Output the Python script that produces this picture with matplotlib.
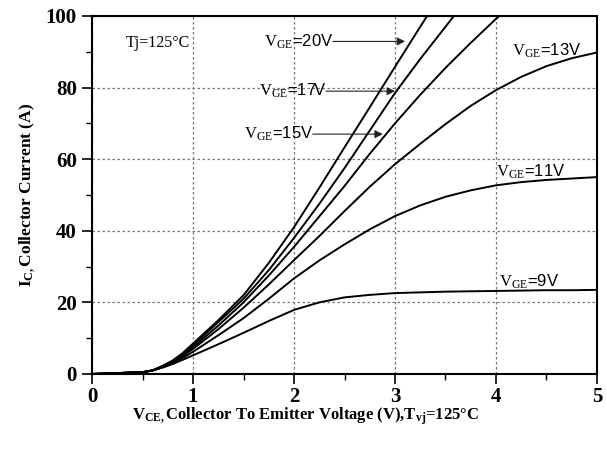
import matplotlib
matplotlib.use("Agg")
import matplotlib.pyplot as plt
from matplotlib.ticker import MultipleLocator

plt.rcParams['mathtext.fontset'] = 'custom'
plt.rcParams['mathtext.rm'] = 'Liberation Serif'
plt.rcParams['mathtext.bf'] = 'Liberation Serif:bold'
plt.rcParams['mathtext.it'] = 'Liberation Serif:italic'

# ---- data ----
vce = [0, 0.5, 0.6, 0.7, 0.8, 0.9, 1.0, 1.25, 1.5, 1.75, 2.0, 2.25, 2.5,
       2.75, 3.0, 3.25, 3.5, 3.75, 4.0, 4.25, 4.5, 4.75, 5.0]

ic_9v = [0, 0.5, 1.0, 1.8, 2.8, 4.0, 5.2, 8.3, 11.5, 14.8, 17.9, 20.0, 21.4,
         22.1, 22.6, 22.8, 23.0, 23.1, 23.2, 23.3, 23.4, 23.4, 23.5]
ic_11v = [0, 0.5, 1.0, 1.9, 3.0, 4.5, 6.2, 10.8, 15.6, 21.0, 26.7, 31.7, 36.2,
          40.4, 44.1, 47.1, 49.5, 51.3, 52.7, 53.6, 54.2, 54.6, 55.0]
ic_13v = [0, 0.5, 1.0, 2.0, 3.2, 5.0, 7.0, 12.5, 18.5, 25.0, 31.8, 38.5, 45.5,
          52.3, 58.6, 64.3, 69.8, 74.9, 79.3, 83.0, 86.0, 88.2, 89.8]
ic_15v = [0, 0.5, 1.0, 2.1, 3.4, 5.3, 7.5, 13.5, 20.0, 27.5, 35.5, 44.0, 52.5,
          61.5, 70.0, 78.0, 85.5, 92.5, 99.2, 105.0]
ic_17v = [0, 0.5, 1.0, 2.2, 3.6, 5.6, 8.0, 14.5, 21.0, 29.0, 38.0, 47.5, 57.5,
          68.0, 78.5, 88.0, 97.0, 106.0]
ic_20v = [0, 0.5, 1.0, 2.3, 3.8, 5.9, 8.5, 15.0, 22.0, 31.0, 41.0, 52.0, 63.3,
          74.5, 85.8, 97.0, 108.0]

series = [ic_9v, ic_11v, ic_13v, ic_15v, ic_17v, ic_20v]

x_ticks = [0, 1, 2, 3, 4, 5]
y_ticks = [0, 20, 40, 60, 80, 100]

# labels: (text, text position, arrow tip or None)
labels = [
    ("20V", (1.70, 92.9), (3.10, 92.9)),
    ("17V", (1.65, 79.0), (3.00, 79.0)),
    ("15V", (1.50, 67.0), (2.88, 67.0)),
    ("13V", (4.16, 90.4), None),
    ("11V", (4.00, 56.4), None),
    ("9V", (4.03, 25.7), None),
]

fig = plt.figure(figsize=(6.07, 4.53), dpi=100)
ax = fig.add_axes([0.1516, 0.1744, 0.8319, 0.7903])

for s in series:
    ax.plot(vce[:len(s)], s, color='black', lw=1.4, clip_on=True)

ax.set_xlim(0, 5)
ax.set_ylim(0, 100)
ax.set_xticks(x_ticks)
ax.set_yticks(y_ticks)
ax.xaxis.set_minor_locator(MultipleLocator(0.5))
ax.yaxis.set_minor_locator(MultipleLocator(10))
ax.tick_params(which='major', direction='out', length=7, width=1.2,
               labelsize=15, pad=4)
ax.tick_params(axis='x', which='major', pad=2.5)
ax.tick_params(which='minor', direction='out', length=4, width=1.0)
for lab in ax.get_xticklabels() + ax.get_yticklabels():
    lab.set_fontfamily('Liberation Serif')
    lab.set_fontweight('bold')

ax.grid(True, which='major', color='#777777', linestyle=(0, (2, 2)), lw=0.9)
for sp in ax.spines.values():
    sp.set_linewidth(1.5)

fig.text(0.504, 0.081,
         r"$\mathbf{V}_{\mathbf{CE,}}$Collector To Emitter Voltage (V),$\mathbf{T}_{\mathbf{vj}}$=125°C",
         fontfamily='Liberation Serif', fontweight='bold', fontsize=12,
         ha='center', va='center')
ax.set_ylabel(r"$\mathbf{I}_{\mathbf{C,}}$Collector Current (A)",
              fontfamily='Liberation Serif', fontweight='bold', fontsize=12.5, labelpad=6)

ax.text(0.33, 92.4, "Tj=125°C", fontfamily='Liberation Serif', fontsize=11.5,
        va='center', ha='left')

for txt, pos, tip in labels:
    t = ax.text(pos[0], pos[1], r"$\mathrm{V}_{\mathrm{GE}}$=" + txt,
                fontfamily='Liberation Sans', fontsize=12, va='center', ha='left')
    if tip is not None:
        fig.canvas.draw()
        bb = t.get_window_extent().transformed(ax.transData.inverted())
        ax.annotate("", xy=tip, xytext=(bb.x1, pos[1]),
                    arrowprops=dict(arrowstyle='-|>', color='#222222', lw=0.8,
                                    mutation_scale=12, shrinkA=0, shrinkB=0))

fig.savefig("out.png", dpi=100)
